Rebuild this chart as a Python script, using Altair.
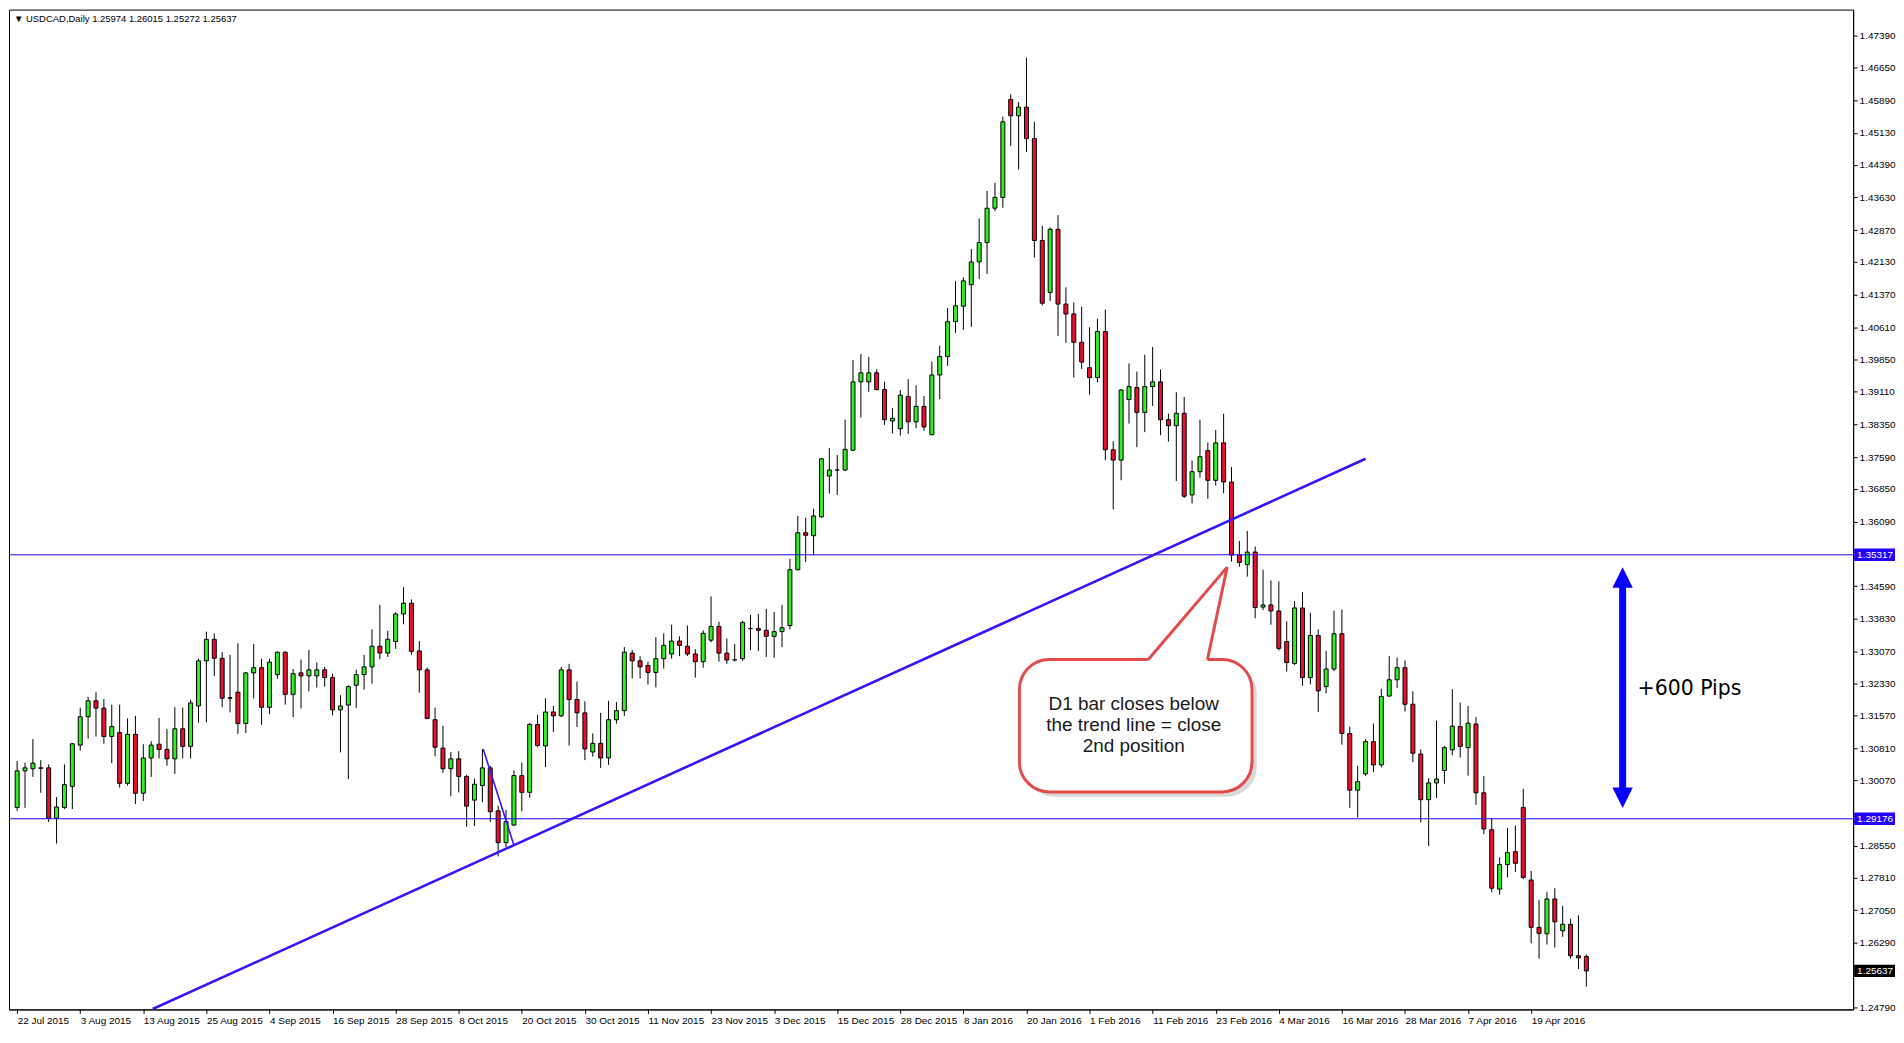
import json
import altair as alt
import pandas as pd

# ---------------- data ----------------
tick_dates = ["22 Jul 2015", "3 Aug 2015", "13 Aug 2015", "25 Aug 2015", "4 Sep 2015",
              "16 Sep 2015", "28 Sep 2015", "8 Oct 2015", "20 Oct 2015", "30 Oct 2015",
              "11 Nov 2015", "23 Nov 2015", "3 Dec 2015", "15 Dec 2015", "28 Dec 2015",
              "8 Jan 2016", "20 Jan 2016", "1 Feb 2016", "11 Feb 2016", "23 Feb 2016",
              "4 Mar 2016", "16 Mar 2016", "28 Mar 2016", "7 Apr 2016", "19 Apr 2016"]

opens = [1.2944, 1.3029, 1.3034, 1.3036, 1.3036, 1.2919, 1.2944, 1.2993, 1.3089, 1.3155,
         1.3192, 1.3175, 1.3109, 1.3118, 1.3000, 1.3114, 1.2977, 1.3059, 1.3091, 1.3079,
         1.3057, 1.3127, 1.3086, 1.3180, 1.3285, 1.3335, 1.3291, 1.3199, 1.3212, 1.3139,
         1.3257, 1.3269, 1.3177, 1.3253, 1.3305, 1.3207, 1.3257, 1.3250, 1.3250, 1.3264,
         1.3246, 1.3171, 1.3182, 1.3228, 1.3253, 1.3271, 1.3319, 1.3303, 1.3330, 1.3394,
         1.3419, 1.3308, 1.3264, 1.3148, 1.3082, 1.3034, 1.3057, 1.3016, 1.2961, 1.2995,
         1.3036, 1.2936, 1.2862, 1.2903, 1.3018, 1.2979, 1.3137, 1.3087, 1.3166, 1.3157,
         1.3264, 1.3195, 1.3164, 1.3073, 1.3093, 1.3059, 1.3148, 1.3169, 1.3303, 1.3285,
         1.3274, 1.3258, 1.3290, 1.3301, 1.3331, 1.3319, 1.3301, 1.3283, 1.3333, 1.3365,
         1.3303, 1.3288, 1.3290, 1.3360, 1.3360, 1.3356, 1.3342, 1.3353, 1.3367, 1.3497,
         1.3583, 1.3576, 1.3620, 1.3715, 1.3729, 1.3729, 1.3775, 1.3934, 1.3934, 1.3955,
         1.3916, 1.3843, 1.3825, 1.3900, 1.3841, 1.3877, 1.3811, 1.3950, 1.3993, 1.4074,
         1.4110, 1.4160, 1.4213, 1.4258, 1.4338, 1.4363, 1.4591, 1.4553, 1.4573, 1.4500,
         1.4263, 1.4142, 1.4289, 1.4115, 1.4092, 1.4026, 1.3967, 1.3944, 1.4051, 1.3776,
         1.3752, 1.3893, 1.3921, 1.3863, 1.3923, 1.3934, 1.3846, 1.3832, 1.3861, 1.3671,
         1.3725, 1.3774, 1.3705, 1.3792, 1.3701, 1.3531, 1.3509, 1.3538, 1.3410, 1.3415,
         1.3401, 1.3330, 1.3279, 1.3408, 1.3246, 1.3344, 1.3225, 1.3266, 1.3348, 1.3116,
         1.2984, 1.3022, 1.3097, 1.3043, 1.3203, 1.3241, 1.3269, 1.3184, 1.3068, 1.2962,
         1.3001, 1.3030, 1.3078, 1.3132, 1.3083, 1.3138, 1.2978, 1.2892, 1.2754, 1.2811,
         1.2841, 1.2944, 1.2775, 1.2665, 1.2650, 1.2731, 1.2657, 1.2672, 1.2599, 1.25974]

highs = [1.3052, 1.3048, 1.3103, 1.3054, 1.3044, 1.2968, 1.3044, 1.3094, 1.3176, 1.3201,
         1.3212, 1.3196, 1.3183, 1.3183, 1.3151, 1.3157, 1.3091, 1.3098, 1.3152, 1.3126,
         1.3177, 1.3176, 1.3194, 1.3290, 1.3353, 1.3349, 1.3305, 1.3299, 1.3326, 1.3259,
         1.3324, 1.3290, 1.3290, 1.3307, 1.3307, 1.3266, 1.3288, 1.3310, 1.3281, 1.3271,
         1.3255, 1.3205, 1.3228, 1.3264, 1.3299, 1.3358, 1.3415, 1.3355, 1.3398, 1.3456,
         1.3428, 1.3331, 1.3269, 1.3176, 1.3134, 1.3073, 1.3075, 1.3020, 1.3011, 1.3080,
         1.3041, 1.2948, 1.2938, 1.3030, 1.3048, 1.3141, 1.3160, 1.3198, 1.3180, 1.3271,
         1.3278, 1.3237, 1.3191, 1.3116, 1.3164, 1.3192, 1.3189, 1.3317, 1.3310, 1.3296,
         1.3283, 1.3340, 1.3349, 1.3369, 1.3342, 1.3367, 1.3312, 1.3356, 1.3435, 1.3376,
         1.3337, 1.3324, 1.3378, 1.3392, 1.3394, 1.3406, 1.3399, 1.3415, 1.3522, 1.3622,
         1.3618, 1.3639, 1.3757, 1.3780, 1.3764, 1.3846, 1.3985, 1.3999, 1.3992, 1.3963,
         1.3934, 1.3873, 1.3915, 1.3940, 1.3926, 1.3901, 1.3981, 1.4018, 1.4106, 1.4168,
         1.4177, 1.4243, 1.4314, 1.4378, 1.4397, 1.4551, 1.4603, 1.4585, 1.4688, 1.4539,
         1.4297, 1.4293, 1.4322, 1.4154, 1.4119, 1.4109, 1.4061, 1.4081, 1.4102, 1.3796,
         1.3917, 1.3977, 1.3958, 1.3997, 1.4015, 1.3963, 1.3860, 1.3910, 1.3899, 1.3751,
         1.3846, 1.3793, 1.3822, 1.3860, 1.3736, 1.3564, 1.3587, 1.3551, 1.3497, 1.3472,
         1.3470, 1.3377, 1.3424, 1.3445, 1.3397, 1.3358, 1.3308, 1.3402, 1.3404, 1.3132,
         1.3041, 1.3103, 1.3139, 1.3220, 1.3296, 1.3293, 1.3286, 1.3214, 1.3079, 1.3012,
         1.3146, 1.3087, 1.3219, 1.3188, 1.3180, 1.3154, 1.3017, 1.2919, 1.2828, 1.2896,
         1.2902, 1.2987, 1.2796, 1.2729, 1.2747, 1.2756, 1.2715, 1.2685, 1.2693, 1.26015]

lows = [1.2936, 1.2943, 1.3015, 1.2978, 1.2910, 1.2860, 1.2940, 1.2940, 1.3076, 1.3104,
        1.3109, 1.3092, 1.3047, 1.2990, 1.2995, 1.2952, 1.2959, 1.3015, 1.3058, 1.3041,
        1.3022, 1.3058, 1.3058, 1.3141, 1.3142, 1.3250, 1.3177, 1.3165, 1.3115, 1.3117,
        1.3197, 1.3136, 1.3161, 1.3243, 1.3183, 1.3154, 1.3174, 1.3214, 1.3223, 1.3225,
        1.3158, 1.3072, 1.3010, 1.3175, 1.3218, 1.3232, 1.3289, 1.3294, 1.3313, 1.3370,
        1.3299, 1.3211, 1.3149, 1.3063, 1.3024, 1.2970, 1.2979, 1.2899, 1.2901, 1.2956,
        1.2910, 1.2830, 1.2851, 1.2901, 1.2935, 1.2967, 1.3084, 1.3038, 1.3119, 1.3154,
        1.3088, 1.3131, 1.3054, 1.3062, 1.3036, 1.3043, 1.3139, 1.3157, 1.3244, 1.3244,
        1.3230, 1.3223, 1.3267, 1.3290, 1.3296, 1.3296, 1.3246, 1.3269, 1.3328, 1.3283,
        1.3278, 1.3283, 1.3285, 1.3310, 1.3308, 1.3294, 1.3292, 1.3317, 1.3358, 1.3495,
        1.3515, 1.3532, 1.3618, 1.3674, 1.3671, 1.3726, 1.3774, 1.3851, 1.3911, 1.3914,
        1.3834, 1.3814, 1.3809, 1.3813, 1.3826, 1.3820, 1.3811, 1.3894, 1.3971, 1.4048,
        1.4055, 1.4062, 1.4173, 1.4185, 1.4331, 1.4339, 1.4483, 1.4428, 1.4469, 1.4223,
        1.4112, 1.4122, 1.4041, 1.4025, 1.3944, 1.3964, 1.3904, 1.3933, 1.3752, 1.3637,
        1.3705, 1.3837, 1.3782, 1.3817, 1.3878, 1.3810, 1.3795, 1.3703, 1.3664, 1.3651,
        1.3711, 1.3662, 1.3693, 1.3675, 1.3516, 1.3504, 1.3481, 1.3384, 1.3403, 1.3369,
        1.3309, 1.3260, 1.3275, 1.3227, 1.3230, 1.3166, 1.3209, 1.3261, 1.3090, 1.2943,
        1.2921, 1.3017, 1.3026, 1.3037, 1.3202, 1.3222, 1.3167, 1.3049, 1.2909, 1.2854,
        1.2966, 1.2999, 1.3065, 1.3060, 1.3018, 1.2950, 1.2882, 1.2747, 1.2741, 1.2781,
        1.2794, 1.2777, 1.2628, 1.2592, 1.2625, 1.2618, 1.2643, 1.2592, 1.2568, 1.25272]

closes = [1.3029, 1.3036, 1.3047, 1.3035, 1.2919, 1.2945, 1.2997, 1.3092, 1.3155, 1.3192,
          1.3175, 1.3109, 1.3132, 1.3000, 1.3114, 1.2977, 1.3059, 1.3089, 1.3079, 1.3057,
          1.3127, 1.3086, 1.3187, 1.3285, 1.3335, 1.3291, 1.3198, 1.3198, 1.3139, 1.3257,
          1.3269, 1.3177, 1.3282, 1.3305, 1.3207, 1.3255, 1.3250, 1.3264, 1.3264, 1.3246,
          1.3171, 1.3180, 1.3225, 1.3253, 1.3271, 1.3319, 1.3303, 1.3335, 1.3394, 1.3419,
          1.3307, 1.3264, 1.3151, 1.3084, 1.3034, 1.3057, 1.3016, 1.2947, 1.2998, 1.3036,
          1.2934, 1.2862, 1.2911, 1.3018, 1.2979, 1.3137, 1.3088, 1.3166, 1.3157, 1.3264,
          1.3195, 1.3164, 1.3080, 1.3093, 1.3059, 1.3148, 1.3169, 1.3305, 1.3285, 1.3271,
          1.3258, 1.3290, 1.3321, 1.3331, 1.3321, 1.3301, 1.3283, 1.3349, 1.3365, 1.3303,
          1.3287, 1.3287, 1.3374, 1.3360, 1.3356, 1.3342, 1.3353, 1.3362, 1.3497, 1.3583,
          1.3577, 1.3622, 1.3755, 1.3729, 1.3729, 1.3777, 1.3934, 1.3955, 1.3955, 1.3916,
          1.3846, 1.3849, 1.3903, 1.3841, 1.3877, 1.3829, 1.3950, 1.3993, 1.4074, 1.4111,
          1.4169, 1.4213, 1.4258, 1.4338, 1.4363, 1.4539, 1.4553, 1.4573, 1.4500, 1.4263,
          1.4117, 1.4289, 1.4115, 1.4092, 1.4026, 1.3980, 1.3944, 1.4051, 1.3776, 1.3752,
          1.3915, 1.3923, 1.3863, 1.3923, 1.3934, 1.3846, 1.3832, 1.3861, 1.3668, 1.3725,
          1.3760, 1.3705, 1.3792, 1.3701, 1.3531, 1.3514, 1.3538, 1.3409, 1.3415, 1.3401,
          1.3314, 1.3281, 1.3408, 1.3246, 1.3344, 1.3215, 1.3266, 1.3348, 1.3116, 1.2984,
          1.3004, 1.3097, 1.3043, 1.3202, 1.3241, 1.3269, 1.3184, 1.3070, 1.2962, 1.3001,
          1.3010, 1.3083, 1.3133, 1.3086, 1.3140, 1.2978, 1.2894, 1.2756, 1.2811, 1.2839,
          1.2814, 1.2781, 1.2665, 1.2651, 1.2731, 1.2678, 1.2672, 1.2599, 1.2594, 1.25637]

y_ticks = [1.47390, 1.46650, 1.45890, 1.45130, 1.44390, 1.43630, 1.42870, 1.42130,
           1.41370, 1.40610, 1.39850, 1.39110, 1.38350, 1.37590, 1.36850, 1.36090,
           1.34590, 1.33830, 1.33070, 1.32330, 1.31570, 1.30810, 1.30070,
           1.28550, 1.27810, 1.27050, 1.26290, 1.24790]

level_prices = [1.35317, 1.29176]
last_price = 1.25637
header = "\u25bc USDCAD,Daily  1.25974 1.26015 1.25272 1.25637"

trend_x = [17.2, 171.0]
trend_y = [1.2475, 1.3755]
steep_x = [59.1, 63.0]
steep_y = [1.3080, 1.2856]

callout_lines = ["D1 bar closes below", "the trend line = close", "2nd position"]
callout_text_y = [1.3185, 1.3136, 1.3086]
callout_text_x = 141.6
box_x = [127.1, 156.6]
box_y = [1.3288, 1.2980]
ptr_base_x = [143.45, 150.95]
ptr_tip = (153.45, 1.3503)

arrow_x = 203.6
arrow_top = 1.3502
arrow_bot = 1.2943
pips_label = "+600 Pips"
pips_pos = (205.5, 1.3219)

# ---------------- layout ----------------
W, H = 1850, 1003
X_DOM = [-0.4, 232.2]
Y_DOM = [1.2474, 1.4800]
FONT = "Liberation Sans"
UP, DOWN = "#33ee22", "#ea0f2e"
BLUE = "#2200ff"
RED_BORDER = "#e34a4a"

xs = alt.Scale(domain=X_DOM, nice=False, zero=False)
ys = alt.Scale(domain=Y_DOM, nice=False, zero=False)

label_expr = json.dumps(tick_dates) + "[round(datum.value / 8)]"
x_axis = alt.Axis(values=list(range(0, 200, 8)), labelExpr=label_expr, labelAlign="left",
                  labelPadding=2, tickSize=4, grid=False, title=None, labelOverlap=False,
                  labelFlush=False, labelBound=False)
y_axis = alt.Axis(orient="right", values=y_ticks, format=".5f", tickSize=4, labelPadding=2,
                  grid=False, title=None, labelOverlap=False, labelFlush=False, labelBound=False)


def X(f):
    return alt.X(f, type="quantitative", scale=xs, axis=x_axis)


def Y(f):
    return alt.Y(f, type="quantitative", scale=ys, axis=y_axis)


df = pd.DataFrame({"i": list(range(len(opens))), "open": opens, "high": highs,
                   "low": lows, "close": closes})
df["top"] = df[["open", "close"]].max(axis=1)
df["bot"] = df[["open", "close"]].min(axis=1)
df["dir"] = ["up" if c >= o else "down" for o, c in zip(opens, closes)]

base = alt.Chart(df)

wicks = base.mark_rule(color="black", strokeWidth=1).encode(x=X("i"), y=Y("low"), y2="high:Q")

bodies = base.mark_bar(width=4, stroke="black", strokeWidth=1, orient="vertical").encode(
    x=X("i"), y=Y("top"), y2="bot:Q",
    fill=alt.Fill("dir:N", scale=alt.Scale(domain=["up", "down"], range=[UP, DOWN]), legend=None),
)

levels = alt.Chart(pd.DataFrame({"p": level_prices})).mark_rule(color=BLUE, strokeWidth=1).encode(
    y=Y("p"))

trend = alt.Chart(pd.DataFrame({"x": trend_x, "y": trend_y})).mark_line(
    color="#3414ff", strokeWidth=2.6, clip=True).encode(x=X("x"), y=Y("y"))

steep = alt.Chart(pd.DataFrame({"x": steep_x, "y": steep_y})).mark_line(
    color="#3414ff", strokeWidth=1.6, clip=True).encode(x=X("x"), y=Y("y"))

# callout
box_df = pd.DataFrame({"x1": [box_x[0]], "x2": [box_x[1]], "y1": [box_y[0]], "y2": [box_y[1]]})
shadow = alt.Chart(box_df).transform_calculate(
    sx1="datum.x1 + 0.6", sx2="datum.x2 + 0.6", sy1="datum.y1 - 0.0011", sy2="datum.y2 - 0.0011"
).mark_rect(cornerRadius=30, fill="#b8b8b8", opacity=0.55).encode(
    x=X("sx1"), x2="sx2:Q", y=Y("sy1"), y2="sy2:Q")
box = alt.Chart(box_df).mark_rect(cornerRadius=30, fill="white", stroke=RED_BORDER,
                                  strokeWidth=3).encode(x=X("x1"), x2="x2:Q", y=Y("y1"), y2="y2:Q")

ax, bx = ptr_base_x
tx, ty = ptr_tip
base_y = box_y[0]
mid_y = base_y + (bx - ax) / (tx - ax) * (ty - base_y)
ptr_fill = alt.Chart(pd.DataFrame({
    "x": [ax, bx, tx], "y": [base_y, mid_y, ty], "y2": [base_y - 0.0006, base_y - 0.0003, ty]
})).mark_area(color="white", opacity=1).encode(x=X("x"), y=Y("y"), y2="y2:Q")
ptr_line = alt.Chart(pd.DataFrame({
    "x": [ax, tx, bx], "y": [base_y, ty, base_y], "o": [0, 1, 2]
})).mark_line(color=RED_BORDER, strokeWidth=3, strokeJoin="miter").encode(
    x=X("x"), y=Y("y"), order="o:Q")

ctext = alt.Chart(pd.DataFrame({"t": callout_lines, "y": callout_text_y,
                                "x": [callout_text_x] * 3})).mark_text(
    font="Liberation Sans", fontSize=19, color="#1a1a1a", align="center", baseline="middle"
).encode(x=X("x"), y=Y("y"), text="t:N")

# arrow
shaft = alt.Chart(pd.DataFrame({"x": [arrow_x], "a": [arrow_top], "b": [arrow_bot]})).transform_calculate(
    a2="datum.a - 0.004", b2="datum.b + 0.004"
).mark_rule(color="#0a00ff", strokeWidth=7).encode(x=X("x"), y=Y("a2"), y2="b2:Q")
heads = alt.Chart(pd.DataFrame({
    "x": [arrow_x, arrow_x], "p": [arrow_top, arrow_bot], "s": ["up", "down"]
})).transform_calculate(
    c="datum.s == 'up' ? datum.p - 0.00233 : datum.p + 0.00233"
).mark_point(filled=True, size=420, opacity=1, strokeWidth=0, color="#0a00ff").encode(
    x=X("x"), y=Y("c"),
    shape=alt.Shape("s:N", scale=alt.Scale(domain=["up", "down"],
                                           range=["M0,-1L1,1L-1,1Z", "M0,1L1,-1L-1,-1Z"]),
                    legend=None),
)
pips = alt.Chart(pd.DataFrame({"t": [pips_label], "x": [pips_pos[0]], "y": [pips_pos[1]]})).mark_text(
    font="DejaVu Sans", fontSize=20.5, align="left", baseline="middle", color="black"
).encode(x=X("x"), y=Y("y"), text="t:N")

# highlighted price labels on the right axis
hl = pd.DataFrame({"p": level_prices + [last_price],
                   "bg": [BLUE, BLUE, "black"]})
hl["lab"] = [f"{v:.5f}" for v in hl["p"]]
hl_rect = alt.Chart(hl).transform_calculate(
    a="datum.p + 0.00145", b="datum.p - 0.00145"
).mark_rect().encode(
    x=alt.value(W + 1), x2=alt.value(W + 42), y=Y("a"), y2="b:Q",
    fill=alt.Fill("bg:N", scale=None))
hl_text = alt.Chart(hl).mark_text(font=FONT, fontSize=10, color="white", align="left",
                                  baseline="middle").encode(
    x=alt.value(W + 4), y=Y("p"), text="lab:N")

head = alt.Chart(pd.DataFrame({"t": [header]})).mark_text(
    font=FONT, fontSize=9.5, align="left", baseline="middle", color="black"
).encode(x=alt.value(5), y=alt.value(9), text="t:N")

chart = alt.layer(
    wicks, bodies, levels, trend, steep,
    shadow, box, ptr_fill, ptr_line, ctext,
    shaft, heads, pips, hl_rect, hl_text, head,
).properties(width=W, height=H, background="white", padding=0).configure_view(
    stroke="black", strokeWidth=1
).configure_axis(
    labelFont=FONT, labelFontSize=10, labelColor="black", tickColor="black",
    domainColor="black", domainWidth=1, tickWidth=1
)

chart.save("out.html", embed_options={"renderer": "svg", "actions": False})
